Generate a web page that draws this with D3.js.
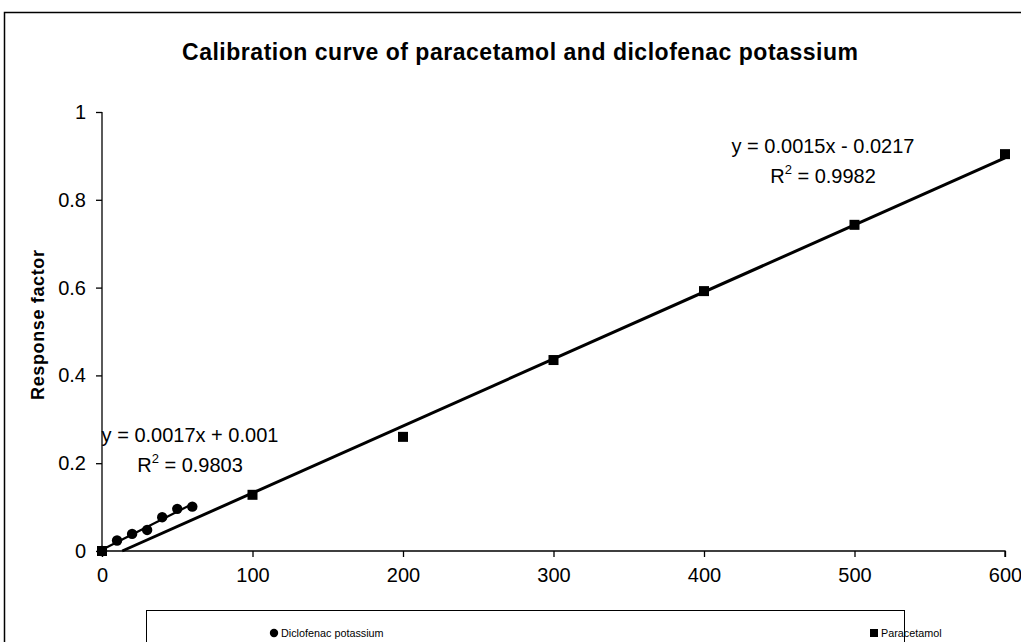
<!DOCTYPE html>
<html><head><meta charset="utf-8">
<script src="https://cdn.jsdelivr.net/npm/d3@7"></script>
<style>body{margin:0;background:#fff} svg{display:block}</style></head>
<body>
<svg id="c" width="1021" height="642"></svg>
<script>
const diclofenacX = [0, 10, 20, 30, 40, 50, 60];
const diclofenacY = [0, 0.024, 0.039, 0.048, 0.077, 0.096, 0.101];
const paracetamolX = [0, 100, 200, 300, 400, 500, 600];
const paracetamolY = [0, 0.128, 0.26, 0.435, 0.592, 0.743, 0.904];
const xTicks = [0, 100, 200, 300, 400, 500, 600];
const yTicks = [0, 0.2, 0.4, 0.6, 0.8, 1];
const seriesNames = ["Diclofenac potassium", "Paracetamol"];
const eqDiclofenac = ["y = 0.0017x + 0.001", "0.9803"];
const eqParacetamol = ["y = 0.0015x - 0.0217", "0.9982"];
const titleText = "Calibration curve of paracetamol and diclofenac potassium";
const yLabel = "Response factor";

const FONT = "'Liberation Sans', Arial, Helvetica, sans-serif";
const svg = d3.select("#c");

// chart area border
svg.append("rect").attr("x", 4.5).attr("y", 12.5).attr("width", 1040).attr("height", 660)
  .attr("fill", "#fff").attr("stroke", "#000").attr("stroke-width", 1.5);

const x = d3.scaleLinear().domain([0, 600]).range([102, 1005]);
const y = d3.scaleLinear().domain([0, 1]).range([551, 112]);

// title
svg.append("text").attr("x", 520).attr("y", 60).attr("text-anchor", "middle")
  .attr("font-family", FONT).attr("font-weight", "bold").attr("font-size", 23)
  .attr("textLength", 676).attr("lengthAdjust", "spacing")
  .text(titleText);

// y label
svg.append("text").attr("transform", `translate(44,325) rotate(-90)`)
  .attr("text-anchor", "middle").attr("font-family", FONT).attr("font-weight", "bold")
  .attr("font-size", 18).attr("textLength", 150).attr("lengthAdjust", "spacing").text(yLabel);

// axes
const yAxis = d3.axisLeft(y).tickValues(yTicks).tickSize(6).tickPadding(10)
  .tickFormat(d => d3.format("~g")(d));
const gy = svg.append("g").attr("transform", `translate(${x(0)},0)`).call(yAxis);
const xAxis = d3.axisBottom(x).tickValues(xTicks).tickSize(6).tickPadding(11).tickFormat(d3.format("d"));
const gx = svg.append("g").attr("transform", `translate(0,${y(0)})`).call(xAxis);
[gx, gy].forEach(g => {
  g.select(".domain").attr("stroke", "#000").attr("stroke-width", 1.3);
  g.selectAll(".tick line").attr("stroke", "#000").attr("stroke-width", 1.3);
  g.selectAll(".tick text").attr("font-family", FONT).attr("font-size", 20).attr("fill", "#000");
});
gy.select(".domain").attr("d", `M0,${y(1)}H0V${y(0)}`);
gx.select(".domain").attr("d", `M${x(0)},0H${x(600)}V6`);

// regression (linear trendlines)
function fit(xs, ys) {
  const n = xs.length, mx = d3.mean(xs), my = d3.mean(ys);
  let sxy = 0, sxx = 0;
  for (let i = 0; i < n; i++) { sxy += (xs[i]-mx)*(ys[i]-my); sxx += (xs[i]-mx)**2; }
  const b = sxy / sxx; return { b, a: my - b * mx };
}
const fd = fit(diclofenacX, diclofenacY);
const fp = fit(paracetamolX, paracetamolY);
const line = d3.line().x(d => x(d[0])).y(d => y(d[1]));
function trend(f, x0, x1) {
  let s = x0;
  if (f.a + f.b * s < 0) s = -f.a / f.b;
  return [[s, f.a + f.b * s], [x1, f.a + f.b * x1]];
}
svg.append("path").attr("d", line(trend(fp, 0, 600))).attr("stroke", "#000").attr("stroke-width", 3).attr("fill", "none");
svg.append("path").attr("d", line(trend(fd, 0, 60))).attr("stroke", "#000").attr("stroke-width", 2.2).attr("fill", "none");

// markers
svg.append("g").selectAll("circle").data(diclofenacX.map((v, i) => [v, diclofenacY[i]])).join("circle")
  .attr("cx", d => x(d[0])).attr("cy", d => y(d[1])).attr("r", 5.2).attr("fill", "#000");
const sq = 10;
svg.append("g").selectAll("rect").data(paracetamolX.map((v, i) => [v, paracetamolY[i]])).join("rect")
  .attr("x", d => x(d[0]) - sq/2).attr("y", d => y(d[1]) - sq/2).attr("width", sq).attr("height", sq).attr("fill", "#000");

// equations
function eq(cx, cy, lines) {
  svg.append("text").attr("font-family", FONT).attr("font-size", 20).attr("text-anchor", "middle")
    .attr("x", cx).attr("y", cy).text(lines[0]);
  const t2 = svg.append("text").attr("font-family", FONT).attr("font-size", 20).attr("text-anchor", "middle")
    .attr("x", cx).attr("y", cy + 30);
  t2.append("tspan").text("R");
  t2.append("tspan").attr("font-size", 13).attr("dy", -9).text("2");
  t2.append("tspan").attr("dy", 9).text(" = " + lines[1]);
}
eq(190, 442, eqDiclofenac);
eq(823, 153, eqParacetamol);

// legend
svg.append("rect").attr("x", 146.5).attr("y", 610.5).attr("width", 758).attr("height", 60)
  .attr("fill", "#fff").attr("stroke", "#000").attr("stroke-width", 1);
svg.append("circle").attr("cx", 274).attr("cy", 633).attr("r", 4.2).attr("fill", "#000");
svg.append("text").attr("x", 281).attr("y", 637).attr("font-family", FONT).attr("font-size", 10.8).text(seriesNames[0]);
svg.append("rect").attr("x", 870).attr("y", 629).attr("width", 8).attr("height", 8).attr("fill", "#000");
svg.append("text").attr("x", 881).attr("y", 637).attr("font-family", FONT).attr("font-size", 10.8).text(seriesNames[1]);
</script>
</body></html>
